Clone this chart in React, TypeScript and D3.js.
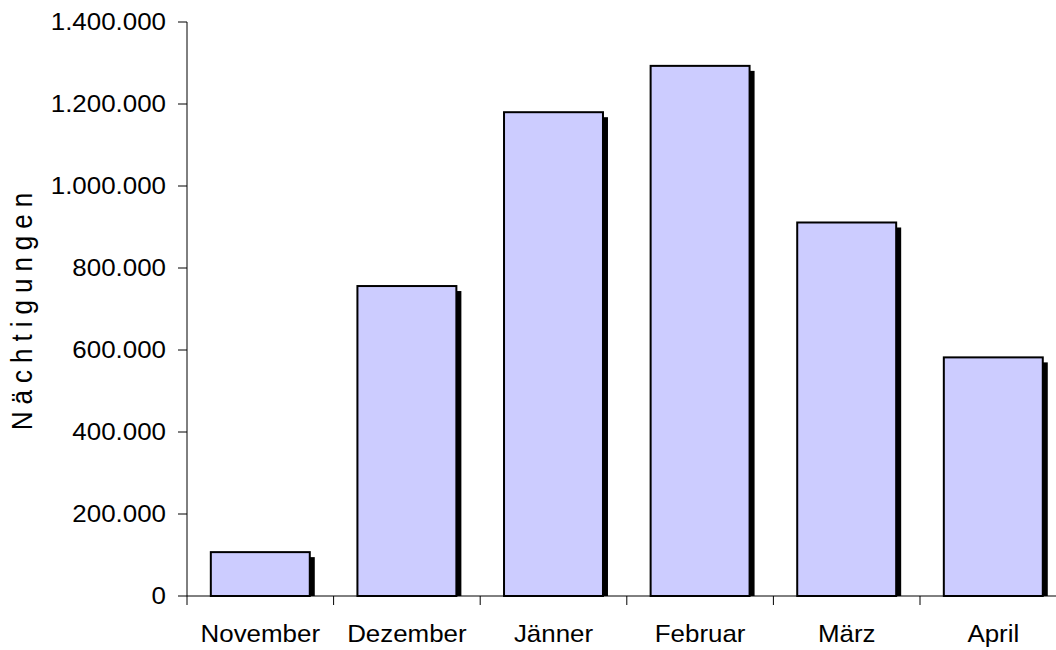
import React from "react";
import * as d3 from "d3";

const categories = ["November", "Dezember", "Jänner", "Februar", "März", "April"];
const values = [107000, 756000, 1180000, 1293000, 911000, 582000];
const yTicks = [0, 200000, 400000, 600000, 800000, 1000000, 1200000, 1400000];
const yTitle = "Nächtigungen";

const W = 1056;
const H = 650;
const left = 187;
const top = 22;
const bottom = 596;
const band = 146.6;
const FS = 24;
const SX = 1.08;

const fmt = (v: number) => (v === 0 ? "0" : d3.format(",")(v).replace(/,/g, "."));

export default function App() {
  const x = d3
    .scaleBand<string>()
    .domain(categories)
    .range([left, left + band * categories.length])
    .paddingInner(0.325)
    .paddingOuter(0.1625);
  const y = d3.scaleLinear().domain([0, 1400000]).range([bottom, top]);
  const font = "'Liberation Sans', Arial, sans-serif";
  const bw = x.bandwidth();
  return (
    <svg
      width={W}
      height={H}
      style={{ position: "absolute", left: 0, top: 0, background: "#fff" }}
      fontFamily={font}
    >
      {categories.map((c, i) => {
        const x0 = x(c)!;
        const yt = y(values[i]);
        return (
          <g key={c}>
            <rect x={x0 + 5} y={yt + 5} width={bw} height={bottom - yt - 5} fill="#000" />
            <rect
              x={x0}
              y={yt}
              width={bw}
              height={bottom - yt}
              fill="#CCCCFF"
              stroke="#000"
              strokeWidth={2}
            />
          </g>
        );
      })}
      {/* y axis */}
      <line x1={left} x2={left} y1={top} y2={bottom} stroke="#000" strokeWidth={1} />
      {yTicks.map((t) => (
        <g key={t}>
          <line x1={left - 9} x2={left} y1={y(t)} y2={y(t)} stroke="#000" />
          <text
            transform={`translate(${left - 21}, ${y(t)}) scale(${SX},1)`}
            dy="0.35em"
            textAnchor="end"
            fontSize={FS}
            fill="#000"
          >
            {fmt(t)}
          </text>
        </g>
      ))}
      {/* x axis */}
      <line x1={left} x2={W} y1={bottom} y2={bottom} stroke="#000" />
      {categories.map((c, i) => {
        const tx = left + band * i;
        return <line key={"t" + c} x1={tx} x2={tx} y1={bottom} y2={bottom + 9} stroke="#000" />;
      })}
      {categories.map((c) => (
        <text
          key={"l" + c}
          transform={`translate(${x(c)! + bw / 2}, 642) scale(${SX},1)`}
          textAnchor="middle"
          fontSize={FS}
          fill="#000"
        >
          {c}
        </text>
      ))}
      <text
        transform={`translate(32, 308) rotate(-90) scale(1,1.15)`}
        textAnchor="middle"
        fontSize={26}
        letterSpacing={7}
        fill="#000"
      >
        {yTitle}
      </text>
    </svg>
  );
}
